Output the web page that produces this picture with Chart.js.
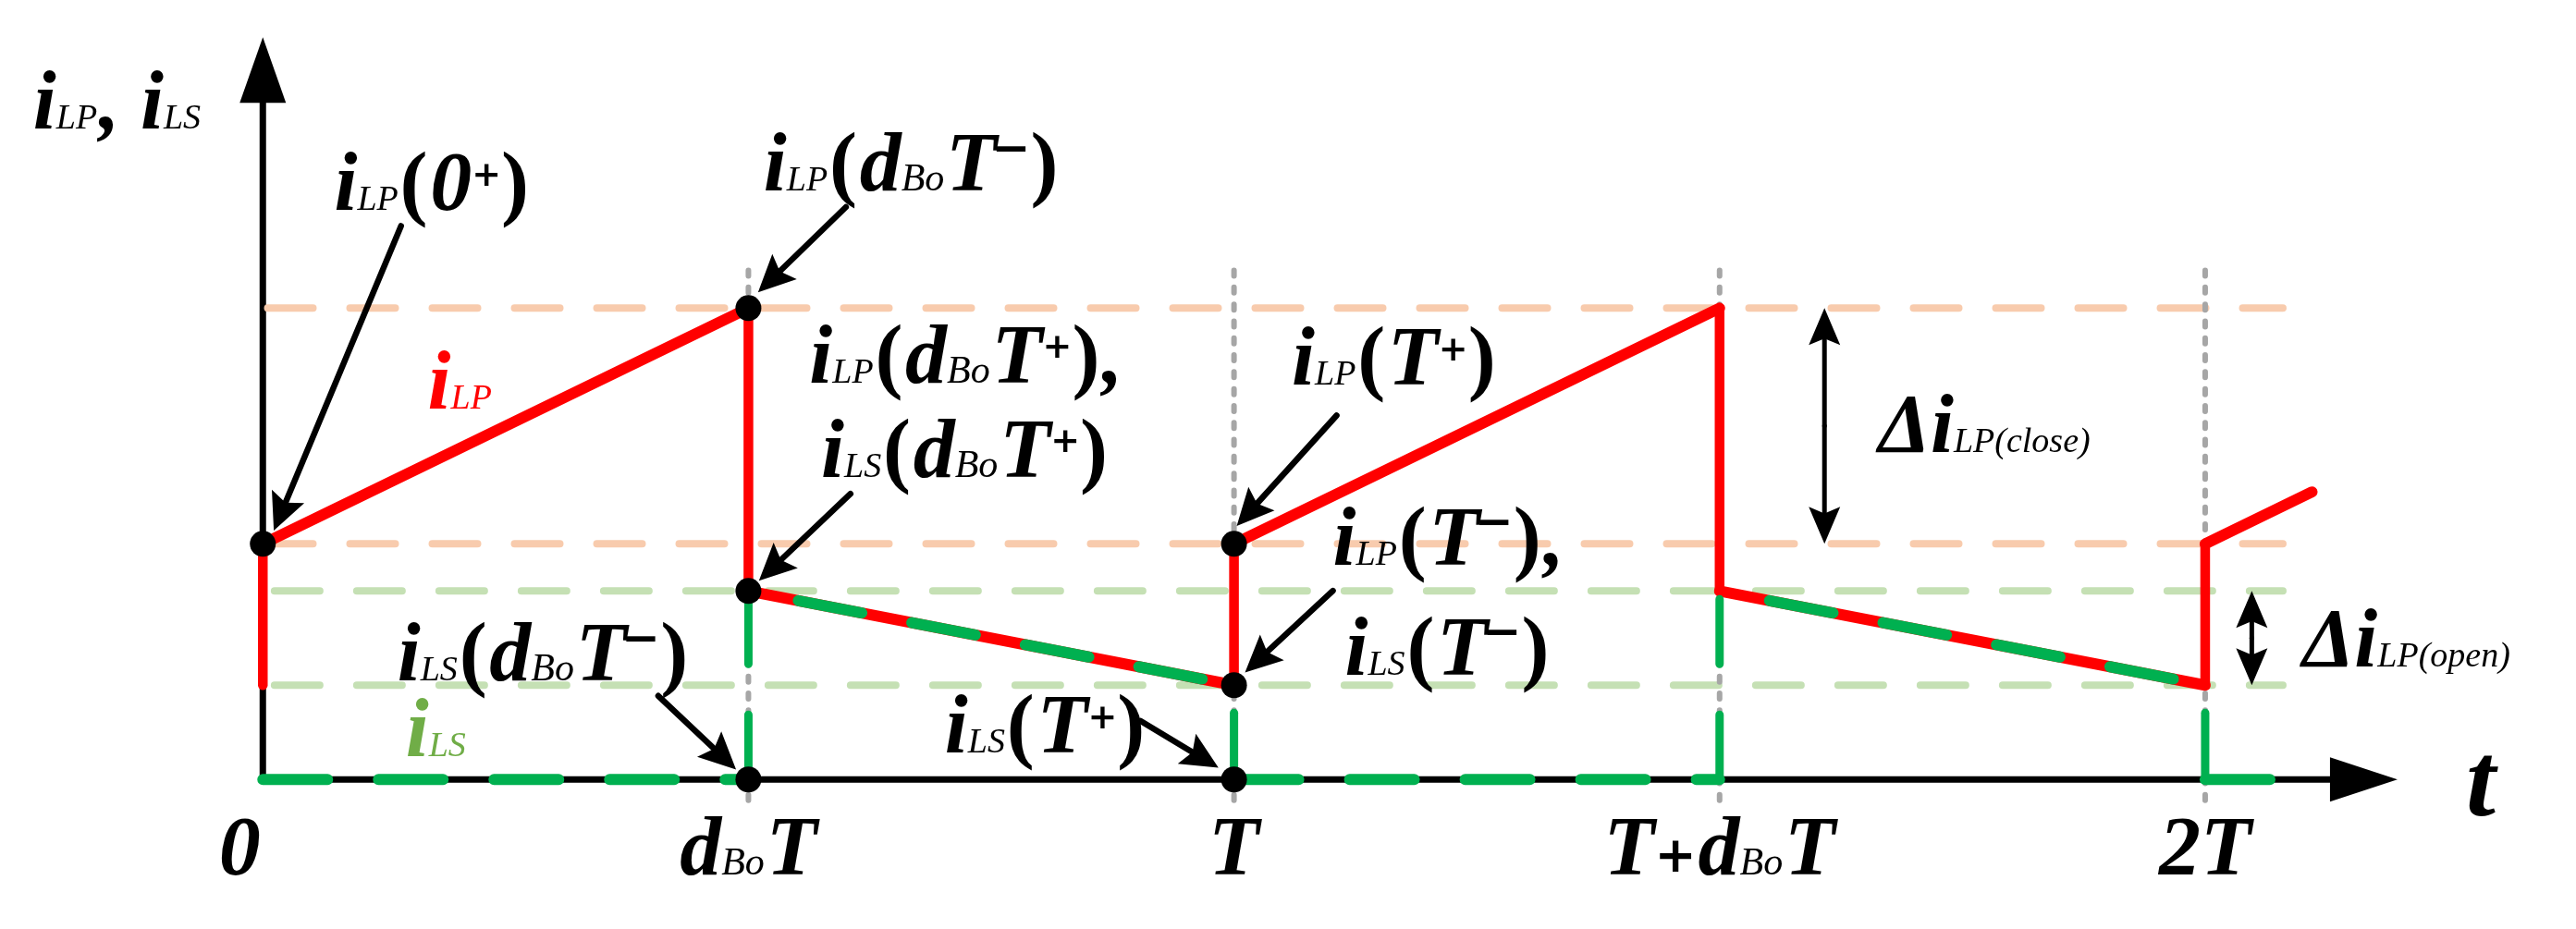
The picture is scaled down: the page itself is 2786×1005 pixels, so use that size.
<!DOCTYPE html>
<html>
<head>
<meta charset="utf-8">
<script src="https://cdn.jsdelivr.net/npm/chart.js@4.4.0/dist/chart.umd.min.js"></script>
<style>
  html, body { margin: 0; padding: 0; background: #fff; }
  canvas { display: block; }
</style>
</head>
<body>
<canvas id="waveChart" width="2786" height="1005"></canvas>
<script>
// time in units of T (dBo = 0.5), current in arbitrary units
const tickValues = [0, 0.5, 1, 1.5, 2];
const tickLabels = ['0', 'd{Bo}T', 'T', 'T+d{Bo}T', '2T'];

// i_LP (red)
const iLPTime = [0, 0, 0.5, 0.5, 1, 1, 1.5, 1.5, 2, 2, 2.11];
const iLPValue = [1, 2.5, 5, 2, 1, 2.5, 5, 2, 1, 2.5, 3.05];

// i_LS (green dashed)
const iLSTime = [0, 0.5, 0.5, 1, 1, 1.5, 1.5, 2, 2, 2.08];
const iLSValue = [0, 0, 2, 1, 0, 0, 2, 1, 0, 0];

// black marked points
const dotTime = [0, 0.5, 0.5, 1, 1, 0.5, 1];
const dotValue = [2.5, 5, 2, 2.5, 1, 0, 0];

// dashed guide levels
const lpLevels = [5, 2.5];
const lsLevels = [2, 1];
const guideEnd = 2.08;
const gridTop = 5.4;
const gridBottom = -0.3;

// annotation texts: $x = bold italic char, [..] = subscript, {..} = small, ^+ / ^- = superscript
const notes = [
  { s: '$i[LP], $i[LS]', x: -0.2366, y: 6.902 },
  { s: '$i[LP](0^+)', x: 0.0735, y: 6.044 },
  { s: '$i[LP](d{Bo}T^-)', x: 0.5156, y: 6.244 },
  { s: '$i[LP]', x: 0.1697, y: 3.937, color: '#FF0000' },
  { s: '$i[LP](d{Bo}T^+),', x: 0.5627, y: 4.214 },
  { s: '$i[LS](d{Bo}T^+)', x: 0.5749, y: 3.213 },
  { s: '$i[LP](T^+)', x: 1.0594, y: 4.185 },
  { s: '$i[LP](T^-),', x: 1.1018, y: 2.278 },
  { s: '$i[LS](T^-)', x: 1.1141, y: 1.115 },
  { s: '$i[LS](d{Bo}T^-)', x: 0.1385, y: 1.049 },
  { s: '$i[LS]', x: 0.147, y: 0.248, color: '#70AD47' },
  { s: '$i[LS](T^+)', x: 0.7022, y: 0.286 },
  { s: 'Δ$i[LP(close)]', x: 1.6635, y: 3.470 },
  { s: 'Δ$i[LP(open)]', x: 2.0999, y: 1.201 },
  { s: '$t', x: 2.2686, y: -0.381, size: 115 }
];

// arrows: [tailX, tailY, tipX, tipY]
const pointers = [
  [0.1423, 5.872, 0.0113, 2.641],
  [0.6004, 6.072, 0.5099, 5.167],
  [0.6051, 3.031, 0.5108, 2.107],
  [1.1056, 3.861, 1.0028, 2.688],
  [1.1018, 2.002, 1.0113, 1.134],
  [0.4072, 0.887, 0.4873, 0.105],
  [0.9039, 0.620, 0.9840, 0.124]
];
const spans = [
  { x: 1.608, from: 5, to: 2.5 },
  { x: 2.048, from: 2, to: 1 }
];

const serif = "'Liberation Serif', 'Times New Roman', serif";
const sans = "'DejaVu Sans', sans-serif";

function pts(xs, ys) {
  return xs.map((x, k) => ({ x: x, y: ys[k] }));
}

function parseRich(str, size) {
  const runs = [];
  let i = 0;
  while (i < str.length) {
    const c = str[i];
    if (c === '$') {
      runs.push({ text: str[i + 1], font: `italic bold ${size}px ${serif}` });
      i += 2;
    } else if (c === '[' || c === '{') {
      const j = str.indexOf(c === '[' ? ']' : '}', i);
      const s = Math.round(size * (c === '[' ? 0.42 : 0.47));
      runs.push({ text: str.slice(i + 1, j), font: `italic ${s}px ${serif}`, pad: size * 0.02 });
      i = j + 1;
    } else if (c === '^') {
      if (str[i + 1] === '+') {
        runs.push({ text: '+', font: `bold ${Math.round(size * 0.42)}px ${sans}`, rise: size * 0.29 });
      } else {
        runs.push({ text: '\u2212', font: `bold ${Math.round(size * 0.55)}px ${sans}`, rise: size * 0.33, dx: -size * 0.06 });
      }
      i += 2;
    } else if (c === '+') {
      runs.push({ text: '+', font: `bold ${Math.round(size * 0.6)}px ${sans}`, pad: size * 0.02, rise: size * 0.04 });
      i++;
    } else if (c === '(' || c === ')') {
      runs.push({ text: c, font: `bold ${size}px ${serif}`, pad: size * 0.03 });
      i++;
    } else {
      runs.push({ text: c, font: `italic bold ${size}px ${serif}` });
      i++;
    }
  }
  return runs;
}

function drawRich(ctx, str, x, y, size, color, align) {
  const runs = parseRich(str, size);
  let w = 0;
  runs.forEach(r => {
    ctx.font = r.font;
    r.w = ctx.measureText(r.text).width + (r.pad || 0) + (r.dx || 0);
    w += r.w;
  });
  let cx = align === 'center' ? x - w / 2 : x;
  ctx.fillStyle = color;
  ctx.textBaseline = 'alphabetic';
  ctx.textAlign = 'left';
  runs.forEach(r => {
    ctx.font = r.font;
    ctx.fillText(r.text, cx + (r.dx || 0), y - (r.rise || 0));
    cx += r.w;
  });
}

function arrowHead(ctx, x0, y0, x1, y1, head, half, width) {
  const ang = Math.atan2(y1 - y0, x1 - x0);
  const cs = Math.cos(ang), sn = Math.sin(ang);
  const bx = x1 - head * cs;
  const by = y1 - head * sn;
  const nx = x1 - head * 0.82 * cs;
  const ny = y1 - head * 0.82 * sn;
  ctx.lineWidth = width;
  ctx.lineCap = 'round';
  ctx.beginPath();
  ctx.moveTo(x0, y0);
  ctx.lineTo(nx, ny);
  ctx.stroke();
  ctx.beginPath();
  ctx.moveTo(x1, y1);
  ctx.lineTo(bx + half * sn, by - half * cs);
  ctx.lineTo(nx, ny);
  ctx.lineTo(bx - half * sn, by + half * cs);
  ctx.closePath();
  ctx.fill();
}

const axesPlugin = {
  id: 'axesPlugin',
  beforeDatasetsDraw(chart) {
    const { ctx, scales: { x, y } } = chart;
    const x0 = x.getPixelForValue(0);
    const y0 = y.getPixelForValue(0);
    ctx.save();
    ctx.strokeStyle = '#000';
    ctx.fillStyle = '#000';
    ctx.lineWidth = 7;
    ctx.lineCap = 'butt';
    ctx.beginPath();
    ctx.moveTo(x0, y0 + 3.5);
    ctx.lineTo(x0, y.getPixelForValue(7.874) + 60);
    ctx.moveTo(x0 - 3.5, y0);
    ctx.lineTo(x.getPixelForValue(2.198) - 60, y0);
    ctx.stroke();
    // arrow heads of the axes
    const yt = y.getPixelForValue(7.874);
    ctx.beginPath();
    ctx.moveTo(x0, yt);
    ctx.lineTo(x0 - 25, yt + 71);
    ctx.lineTo(x0 + 25, yt + 71);
    ctx.closePath();
    ctx.fill();
    const xt = x.getPixelForValue(2.198);
    ctx.beginPath();
    ctx.moveTo(xt, y0);
    ctx.lineTo(xt - 73, y0 - 24);
    ctx.lineTo(xt - 73, y0 + 24);
    ctx.closePath();
    ctx.fill();
    ctx.restore();
  },
  afterDatasetsDraw(chart) {
    const { ctx, scales: { x, y } } = chart;
    ctx.save();
    ctx.strokeStyle = '#000';
    ctx.fillStyle = '#000';
    pointers.forEach(p => {
      arrowHead(ctx, x.getPixelForValue(p[0]), y.getPixelForValue(p[1]),
        x.getPixelForValue(p[2]), y.getPixelForValue(p[3]), 40, 19, 6.5);
    });
    spans.forEach(sp => {
      const px = x.getPixelForValue(sp.x);
      const ya = y.getPixelForValue(sp.from);
      const yb = y.getPixelForValue(sp.to);
      const mid = (ya + yb) / 2;
      arrowHead(ctx, px, mid, px, ya, 40, 17, 5);
      arrowHead(ctx, px, mid, px, yb, 40, 17, 5);
    });
    tickValues.forEach((t, k) => {
      const shift = t === 0 ? -25 : 0;
      drawRich(ctx, tickLabels[k], x.getPixelForValue(t) + shift, y.getPixelForValue(-1.0105), 90, '#000', 'center');
    });
    notes.forEach(n => {
      drawRich(ctx, n.s, x.getPixelForValue(n.x), y.getPixelForValue(n.y), n.size || 90, n.color || '#000', 'left');
    });
    ctx.restore();
  }
};

const guideSets = [];
lpLevels.forEach(v => guideSets.push({
  data: pts([0.005, guideEnd], [v, v]),
  borderColor: '#F8CBAD', borderWidth: 8, borderDash: [49, 40], borderCapStyle: 'round',
  showLine: true, pointRadius: 0, order: 10
}));
lsLevels.forEach(v => guideSets.push({
  data: pts([0.012, guideEnd], [v, v]),
  borderColor: '#C5E0B4', borderWidth: 8, borderDash: [49, 40], borderCapStyle: 'round',
  showLine: true, pointRadius: 0, order: 10
}));
tickValues.slice(1).forEach(t => guideSets.push({
  data: pts([t, t], [gridTop, gridBottom]),
  borderColor: '#A6A6A6', borderWidth: 6, borderDash: [6, 12.3], borderCapStyle: 'round',
  showLine: true, pointRadius: 0, order: 9
}));

const isVertical = c => c.p0.parsed.x === c.p1.parsed.x;

new Chart(document.getElementById('waveChart'), {
  type: 'scatter',
  data: {
    datasets: guideSets.concat([
      {
        label: 'iLP',
        data: pts(iLPTime, iLPValue),
        borderColor: '#FF0000',
        borderWidth: 12,
        borderCapStyle: 'round',
        segment: { borderWidth: c => isVertical(c) ? 10.5 : 12 },
        showLine: true, pointRadius: 0, order: 3
      },
      {
        label: 'iLS',
        data: pts(iLSTime, iLSValue),
        borderColor: '#00B050',
        borderWidth: 12,
        borderDash: [70, 55],
        borderCapStyle: 'round',
        segment: {
          borderWidth: c => isVertical(c) ? 9 : 12,
          borderDashOffset: c => {
            if (isVertical(c)) return c.p0.parsed.y > c.p1.parsed.y ? 95 : 0;
            return c.p0.parsed.y !== c.p1.parsed.y ? 70 : 0;
          }
        },
        showLine: true, pointRadius: 0, order: 2
      },
      {
        label: 'points',
        data: pts(dotTime, dotValue),
        showLine: false,
        pointRadius: 14,
        pointBackgroundColor: '#000',
        pointBorderWidth: 0,
        order: 1
      }
    ])
  },
  options: {
    responsive: false,
    devicePixelRatio: 1,
    animation: false,
    layout: { padding: 0 },
    plugins: {
      legend: { display: false },
      tooltip: { enabled: false }
    },
    scales: {
      x: { type: 'linear', min: -0.2573, max: 2.3685, display: false },
      y: { type: 'linear', min: -1.449, max: 8.1316, display: false }
    }
  },
  plugins: [axesPlugin]
});
</script>
</body>
</html>
